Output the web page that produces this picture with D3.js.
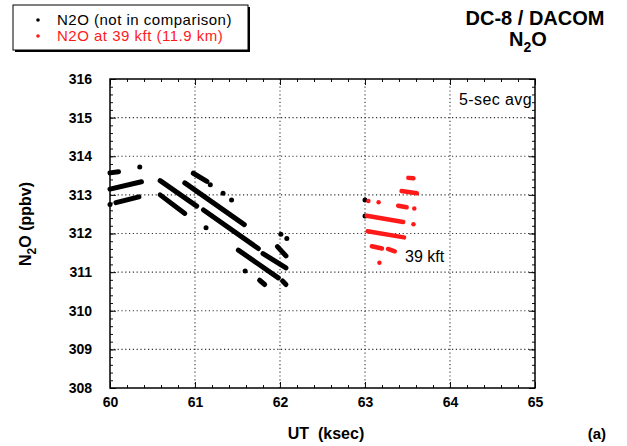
<!DOCTYPE html>
<html>
<head>
<meta charset="utf-8">
<script src="https://cdn.jsdelivr.net/npm/d3@7"></script>
<style>
  body { margin: 0; background: #fff; }
  svg { display: block; font-family: "Liberation Sans", Arial, Helvetica, sans-serif; }
</style>
</head>
<body>
<svg id="chart" width="627" height="446"></svg>
<script>
// UT axis (ksec) and N2O axis (ppbv)
const xDomain = [60, 65];
const yDomain = [308, 316];
const xTickValues = [60, 61, 62, 63, 64, 65];
const yTickValues = [308, 309, 310, 311, 312, 313, 314, 315, 316];

// N2O 5-sec averages outside the comparison: each run of consecutive samples
// is stored as [UT start, N2O start, UT end, N2O end]; lone samples repeat the point.
const n2oOther = [
  [60.00, 313.15, 60.37, 313.34],
  [60.00, 312.75, 60.00, 312.75],
  [60.07, 312.80, 60.34, 312.95],
  [60.00, 313.57, 60.10, 313.60],
  [60.35, 313.72, 60.35, 313.72],
  [60.59, 313.37, 61.02, 312.71],
  [60.59, 313.00, 60.88, 312.52],
  [60.88, 313.31, 61.58, 312.23],
  [60.98, 313.56, 61.14, 313.35],
  [61.18, 313.26, 61.18, 313.26],
  [61.33, 313.04, 61.33, 313.04],
  [61.43, 312.87, 61.43, 312.87],
  [61.13, 312.15, 61.13, 312.15],
  [61.10, 312.61, 61.745, 311.61],
  [61.51, 311.57, 61.98, 310.85],
  [61.80, 311.48, 62.07, 311.11],
  [61.97, 311.66, 62.07, 311.42],
  [62.01, 311.98, 62.01, 311.98],
  [62.08, 311.87, 62.08, 311.87],
  [61.59, 311.03, 61.59, 311.03],
  [61.76, 310.79, 61.82, 310.68],
  [62.03, 310.77, 62.07, 310.68],
  [63.00, 312.87, 63.00, 312.87],
  [63.00, 312.45, 63.00, 312.45]
];

// N2O 5-sec averages at 39 kft (11.9 km)
const n2o39kft = [
  [63.51, 313.44, 63.57, 313.43],
  [63.43, 313.10, 63.61, 313.04],
  [63.04, 312.84, 63.04, 312.84],
  [63.16, 312.81, 63.16, 312.81],
  [63.39, 312.72, 63.49, 312.68],
  [63.58, 312.65, 63.58, 312.65],
  [63.02, 312.46, 63.45, 312.30],
  [63.57, 312.24, 63.57, 312.24],
  [63.03, 312.06, 63.46, 311.90],
  [63.08, 311.67, 63.20, 311.61],
  [63.27, 311.60, 63.35, 311.54],
  [63.17, 311.24, 63.17, 311.24]
];

const legendLabels = ["N2O (not in comparison)", "N2O at 39 kft (11.9 km)"];
const seriesColors = ["#000000", "#ff1a1a"];

const svg = d3.select("#chart");
const plotLeft = 110, plotRight = 535, plotTop = 79, plotBottom = 388;

const x = d3.scaleLinear().domain(xDomain).range([plotLeft, plotRight]);
const y = d3.scaleLinear().domain(yDomain).range([plotBottom, plotTop]);

// dotted grid at the interior major ticks
const grid = svg.append("g").attr("stroke", "#333").attr("stroke-width", 1.1)
  .attr("stroke-dasharray", "1.2,2.6");
grid.selectAll("line.gx").data(xTickValues.slice(1, -1)).join("line")
  .attr("x1", d => x(d)).attr("x2", d => x(d)).attr("y1", plotTop).attr("y2", plotBottom);
grid.selectAll("line.gy").data(yTickValues.slice(1, -1)).join("line")
  .attr("y1", d => y(d)).attr("y2", d => y(d)).attr("x1", plotLeft).attr("x2", plotRight);

// inward minor and major ticks on all four sides
const minorX = d3.range(60, 65.001, 0.2).map(v => +v.toFixed(1));
const minorY = d3.range(308, 316.001, 0.2).map(v => +v.toFixed(1));
function tickAxis(gen, values, size, tx, ty) {
  const g = svg.append("g").attr("transform", `translate(${tx},${ty})`)
    .call(gen.tickValues(values).tickSize(-size).tickFormat(""));
  g.select(".domain").remove();
  g.selectAll(".tick line").attr("stroke", "#111").attr("stroke-width", 1);
  return g;
}
tickAxis(d3.axisBottom(x), minorX, 3, 0, plotBottom);
tickAxis(d3.axisTop(x), minorX, 3, 0, plotTop);
tickAxis(d3.axisLeft(y), minorY, 3, plotLeft, 0);
tickAxis(d3.axisRight(y), minorY, 3, plotRight, 0);
tickAxis(d3.axisBottom(x), xTickValues, 6, 0, plotBottom);
tickAxis(d3.axisTop(x), xTickValues, 6, 0, plotTop);
tickAxis(d3.axisLeft(y), yTickValues, 6, plotLeft, 0);
tickAxis(d3.axisRight(y), yTickValues, 6, plotRight, 0);

// tick labels
const xLab = svg.append("g").attr("transform", `translate(0,${plotBottom})`)
  .call(d3.axisBottom(x).tickValues(xTickValues).tickSize(0).tickPadding(9).tickFormat(d3.format("d")));
const yLab = svg.append("g").attr("transform", `translate(${plotLeft},0)`)
  .call(d3.axisLeft(y).tickValues(yTickValues).tickSize(0).tickPadding(18).tickFormat(d3.format("d")));
[xLab, yLab].forEach(g => {
  g.select(".domain").remove();
  g.selectAll("text").attr("font-family", "Liberation Sans, Arial, sans-serif")
    .attr("font-size", 14).attr("font-weight", "bold").attr("fill", "#000");
});

// frame
svg.append("rect").attr("x", plotLeft).attr("y", plotTop)
  .attr("width", plotRight - plotLeft).attr("height", plotBottom - plotTop)
  .attr("fill", "none").attr("stroke", "#000").attr("stroke-width", 1.5);

// data runs
function drawSeries(data, color, width) {
  const g = svg.append("g");
  g.selectAll("line").data(data.filter(d => d[0] !== d[2] || d[1] !== d[3])).join("line")
    .attr("x1", d => x(d[0])).attr("y1", d => y(d[1]))
    .attr("x2", d => x(d[2])).attr("y2", d => y(d[3]))
    .attr("stroke", color).attr("stroke-width", width).attr("stroke-linecap", "round");
  g.selectAll("circle").data(data.filter(d => d[0] === d[2] && d[1] === d[3])).join("circle")
    .attr("cx", d => x(d[0])).attr("cy", d => y(d[1])).attr("r", width / 2)
    .attr("fill", color);
}
drawSeries(n2oOther, seriesColors[0], 5);
drawSeries(n2o39kft, seriesColors[1], 4.5);

// annotations inside the plot
svg.append("text").attr("x", 532).attr("y", 105).attr("text-anchor", "end")
  .attr("font-size", 16).attr("letter-spacing", 0.4).text("5-sec avg");
svg.append("text").attr("x", 405).attr("y", 262)
  .attr("font-size", 16).text("39 kft");

// axis titles
svg.append("text").attr("x", 326).attr("y", 439).attr("text-anchor", "middle")
  .attr("font-size", 16).attr("font-weight", "bold").attr("xml:space", "preserve")
  .text("UT  (ksec)");
const yt = svg.append("text").attr("transform", "translate(31,224) rotate(-90)")
  .attr("text-anchor", "middle").attr("font-size", 16).attr("font-weight", "bold");
yt.append("tspan").text("N");
yt.append("tspan").attr("font-size", 12).attr("dy", 5).text("2");
yt.append("tspan").attr("dy", -5).text("O (ppbv)");

svg.append("text").attr("x", 606).attr("y", 439).attr("text-anchor", "end")
  .attr("font-size", 15).attr("font-weight", "bold").text("(a)");

// title
svg.append("text").attr("x", 535).attr("y", 25).attr("text-anchor", "middle")
  .attr("font-size", 20).attr("font-weight", "bold").text("DC-8 / DACOM");
const t2 = svg.append("text").attr("x", 528).attr("y", 46).attr("text-anchor", "middle")
  .attr("font-size", 20).attr("font-weight", "bold");
t2.append("tspan").text("N");
t2.append("tspan").attr("font-size", 14).attr("dy", 6).text("2");
t2.append("tspan").attr("dy", -6).text("O");

// legend box with drop shadow
const lg = svg.append("g");
lg.append("rect").attr("x", 15).attr("y", 7).attr("width", 235).attr("height", 45).attr("fill", "#000");
lg.append("rect").attr("x", 13).attr("y", 5).attr("width", 235).attr("height", 45)
  .attr("fill", "#fff").attr("stroke", "#000").attr("stroke-width", 1);
legendLabels.forEach((lab, i) => {
  lg.append("circle").attr("cx", 38).attr("cy", 20 + i * 16).attr("r", 1.8).attr("fill", seriesColors[i]);
  lg.append("text").attr("x", 57).attr("y", 24.5 + i * 16).attr("font-size", 15)
    .attr("letter-spacing", 0.5).attr("fill", seriesColors[i]).text(lab);
});
</script>
</body>
</html>
